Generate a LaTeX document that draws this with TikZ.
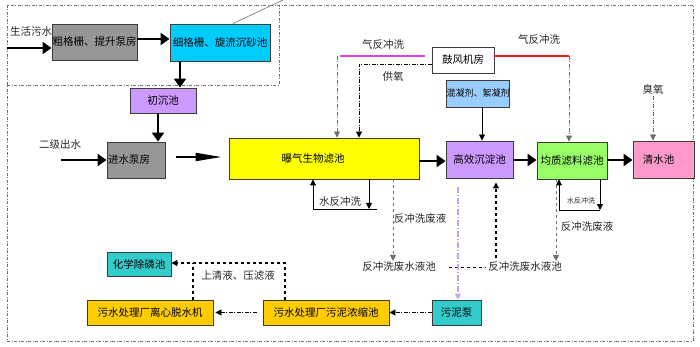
\documentclass[tikz,border=0pt]{standalone}
\usepackage{fontspec}
\setmainfont{Noto Sans CJK SC}
\usetikzlibrary{arrows.meta}
\definecolor{cgray}{RGB}{150,150,150}
\definecolor{ccyan}{RGB}{0,204,255}
\definecolor{cpurple}{RGB}{204,153,255}
\definecolor{cyellow}{RGB}{255,255,0}
\definecolor{cgreen}{RGB}{153,255,102}
\definecolor{cpink}{RGB}{255,153,204}
\definecolor{cblue}{RGB}{153,204,255}
\definecolor{cteal}{RGB}{51,204,204}
\definecolor{cgold}{RGB}{255,204,0}
\definecolor{cmag}{RGB}{230,60,230}
\definecolor{cred}{RGB}{230,30,30}
\definecolor{cviolet}{RGB}{200,160,235}
\definecolor{cborder}{RGB}{60,60,60}
\definecolor{cdash}{RGB}{110,110,110}
\tikzset{
  box/.style={draw=cborder, line width=0.9pt, inner sep=0pt, font=\fontsize{10.5}{12}\selectfont},
  lbl/.style={inner sep=1pt, font=\fontsize{10.5}{12}\selectfont, text=black!85},
  bigarrow/.style={line width=2.6pt, -{Triangle[length=9pt,width=12pt]}},
  thinarrow/.style={line width=0.9pt, -{Triangle[length=6pt,width=6pt]}},
  dashdot/.style={dash pattern=on 4pt off 1.5pt on 1pt off 1.5pt},
  frame/.style={draw=cdash, line width=0.8pt, dash pattern=on 3pt off 1.5pt on 1pt off 1.5pt},
}
\begin{document}
\begin{tikzpicture}[x=1pt,y=-1pt]
\useasboundingbox (0,0) rectangle (700,347);
% frame
\draw[frame] (7,5) rectangle (693,341);
\draw[frame] (7,85) -- (279,85) -- (279,5);
% nodes
\node[box, fill=cgray, minimum width=85pt, minimum height=36pt] (cg) at (94.5,42) {粗格栅、提升泵房};
\node[box, fill=ccyan, minimum width=100pt, minimum height=37pt] (xg) at (220,42.5) {细格栅、旋流沉砂池};
\node[box, fill=cpurple, minimum width=66pt, minimum height=25pt] (cc) at (163,100.5) {初沉池};
\node[box, fill=cgray, minimum width=58pt, minimum height=36pt, text width=56pt, align=left] (js) at (136,160) {进水泵房};
\node[box, fill=cyellow, minimum width=190pt, minimum height=41pt] (pq) at (324,158.5) {\hspace*{-22pt}曝气生物滤池};
\node[box, fill=cpurple, minimum width=67pt, minimum height=37pt] (gx) at (479.5,159.5) {高效沉淀池};
\node[box, fill=cgreen, minimum width=70pt, minimum height=37pt] (jz) at (572,160.5) {均质滤料滤池};
\node[box, fill=cpink, minimum width=61pt, minimum height=37pt] (qs) at (663.5,159.5) {\hspace*{-10pt}清水池};
\node[box, fill=white, minimum width=62pt, minimum height=26pt] (gf) at (463,60) {鼓风机房};
\node[box, fill=cblue, minimum width=62pt, minimum height=27pt, font=\fontsize{9}{10}\selectfont] (hn) at (478,93.5) {混凝剂、絮凝剂};
\node[box, fill=cteal, minimum width=49pt, minimum height=25pt] (wnb) at (456.5,312.5) {污泥泵};
\node[box, fill=cgold, minimum width=126pt, minimum height=25pt] (nsc) at (326,312.5) {污水处理厂污泥浓缩池};
\node[box, fill=cgold, minimum width=126pt, minimum height=25pt] (lx) at (150,312.5) {污水处理厂离心脱水机};
\node[box, fill=cteal, minimum width=64pt, minimum height=24pt] (hx) at (139,264) {化学除磷池};
% labels
\node[lbl, anchor=west] (t1) at (9,32) {生活污水};
\node[lbl] (t2) at (60,145) {二级出水};
\node[lbl] (t3) at (383,45) {气反冲洗};
\node[lbl] (t4) at (539,40) {气反冲洗};
\node[lbl] (t5) at (393,77) {供氧};
\node[lbl] (t6) at (653,90) {臭氧};
\node[lbl] (t7) at (340,202) {水反冲洗};
\node[lbl] (t8) at (420,219) {反冲洗废液};
\node[lbl] (t9) at (587,227) {反冲洗废液};
\node[lbl] (fc1) at (399,267) {反冲洗废水液池};
\node[lbl] (fc2) at (525,267) {反冲洗废水液池};
\node[lbl, font=\fontsize{7}{8}\selectfont] (t10) at (581,201) {水反冲洗};
\node[lbl] (t11) at (238,276) {上清液、压滤液};
% coordinates
\coordinate (in1) at (7,48);
\coordinate (in2) at (61,160);
\coordinate (d1) at (283,0);
% diagonal line
\draw[cdash, line width=0.6pt] (xg.north -| 233,0) -- (d1);
% main flow
\draw[bigarrow] (in1) -- (cg.west |- in1);
\draw[bigarrow] (cg.east |- 0,39) -- (xg.west |- 0,39);
\draw[bigarrow] (xg.south -| 180,0) -- (cc.north -| 180,0);
\draw[bigarrow] (cc.south -| 158,0) -- (js.north -| 158,0);
\draw[bigarrow] (in2) -- (js.west |- in2);
\draw[line width=2pt, -{Triangle[length=26pt,width=8pt]}, shorten <=11pt, shorten >=7pt] (js.east |- 0,157) -- (pq.west |- 0,157);
\draw[bigarrow] (pq.east |- 0,161) -- (gx.west |- 0,161);
\draw[bigarrow] (gx.east |- 0,160) -- (jz.west |- 0,160);
\draw[bigarrow] (jz.east |- 0,160) -- (qs.west |- 0,160);
\draw[thinarrow] (hn.south -| 482,0) -- (gx.north -| 482,0);
% blower lines
\draw[cmag, line width=1.2pt] ([xshift=-7pt]gf.west |- 0,56) -- (340,56);
\draw[thinarrow, dashdot, cdash] (337,56) -- (pq.north -| 337,0);
\draw[thinarrow, dashdot] (gf.west |- 0,64) -- (359,64) -- (pq.north -| 359,0);
\draw[cred, line width=1.2pt] (gf.east |- 0,56) -- (569,56);
\draw[thinarrow, dashdot, cdash] (569,56) -- (jz.north -| 569,0);
\draw[thinarrow, dashdot, cdash] (t6.south -| 653,0) -- (qs.north -| 653,0);
% under BAF
\draw[thinarrow] (313,209) -- (pq.south -| 313,0);
\draw[line width=0.9pt] (313,209) -- (377,209);
\draw[thinarrow] (pq.south -| 369,0) -- (369,209);
\draw[thinarrow, dashed, cdash] (pq.south -| 393,0) -- (fc1.north -| 393,0);
\draw[line width=1pt, dashed, shorten <=12pt, shorten >=1pt] (fc1.east) -- (fc2.west);
\draw[thinarrow, dashed, line width=1.1pt, shorten >=4pt] (496,258) -- (gx.south -| 496,0);
\draw[thinarrow, cviolet, dash pattern=on 6pt off 2pt on 1pt off 2pt, line width=1.2pt] (458,187) -- (wnb.north -| 458,0);
% under filter
\draw[thinarrow] (559,210) -- (jz.south -| 559,0);
\draw[line width=0.9pt] (559,210) -- (600,210);
\draw[thinarrow] (jz.south -| 600,0) -- (600,210);
\draw[thinarrow, dashed, cdash] (jz.south -| 556,0) -- (fc2.north -| 556,0);
% sludge
\draw[thinarrow, dashdot] (wnb.west) -- (nsc.east);
\draw[thinarrow, dashdot, shorten <=6pt, shorten >=2pt] (nsc.west) -- (lx.east);
\draw[thinarrow, dashed, line width=1.1pt] (nsc.north -| 285,0) -- (285,263) -- (hx.east |- 0,263);
\draw[dashed, line width=1.1pt] (lx.north -| 193,0) -- (193,263);
\end{tikzpicture}
\end{document}
